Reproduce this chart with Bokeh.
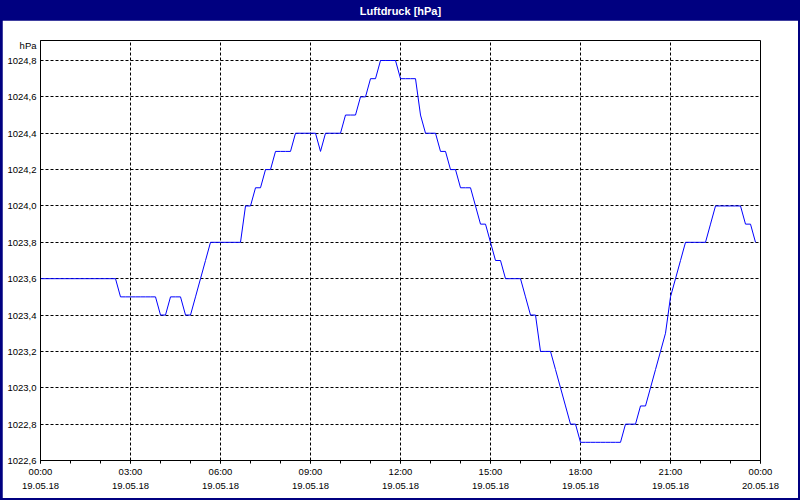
from bokeh.plotting import figure
from bokeh.models import FixedTicker, ColumnDataSource
from bokeh.layouts import column
from bokeh.embed import file_html
from bokeh.resources import INLINE
from bokeh.core.properties import value

# ---------------- data ----------------
title_text = "Luftdruck [hPa]"
unit_label = "hPa"

x_ticks = [0, 3, 6, 9, 12, 15, 18, 21, 24]
x_minor_ticks = list(range(0, 25))
x_tick_labels = ["00:00\n19.05.18", "03:00\n19.05.18", "06:00\n19.05.18",
                 "09:00\n19.05.18", "12:00\n19.05.18", "15:00\n19.05.18",
                 "18:00\n19.05.18", "21:00\n19.05.18", "00:00\n20.05.18"]

y_ticks = [1022.6, 1022.8, 1023.0, 1023.2, 1023.4, 1023.6,
           1023.8, 1024.0, 1024.2, 1024.4, 1024.6, 1024.8]
y_tick_labels = ["1022,6", "1022,8", "1023,0", "1023,2", "1023,4", "1023,6",
                 "1023,8", "1024,0", "1024,2", "1024,4", "1024,6", "1024,8"]
unit_label_pos = 1024.88   # where the unit caption sits on the value axis

sample_minutes = 10  # one reading every 10 minutes, starting 00:00

pressure = [
    # 00:00 - 02:30
    1023.6, 1023.6, 1023.6, 1023.6, 1023.6, 1023.6, 1023.6, 1023.6,
    1023.6, 1023.6, 1023.6, 1023.6, 1023.6, 1023.6, 1023.6, 1023.6,
    # 02:40 - 03:50
    1023.5, 1023.5, 1023.5, 1023.5, 1023.5, 1023.5, 1023.5, 1023.5,
    # 04:00 - 05:00
    1023.4, 1023.4, 1023.5, 1023.5, 1023.5, 1023.4, 1023.4,
    # 05:10 - 06:40
    1023.5, 1023.6, 1023.7, 1023.8, 1023.8, 1023.8, 1023.8, 1023.8, 1023.8, 1023.8,
    # 06:50 - 09:10
    1024.0, 1024.0, 1024.1, 1024.1, 1024.2, 1024.2, 1024.3, 1024.3, 1024.3, 1024.3,
    1024.4, 1024.4, 1024.4, 1024.4, 1024.4,
    # 09:20 - 10:00
    1024.3, 1024.4, 1024.4, 1024.4, 1024.4,
    # 10:10 - 11:50
    1024.5, 1024.5, 1024.5, 1024.6, 1024.6, 1024.7, 1024.7,
    1024.8, 1024.8, 1024.8, 1024.8,
    # 12:00 - 12:30
    1024.7, 1024.7, 1024.7, 1024.7,
    # 12:40 - 14:20
    1024.5, 1024.4, 1024.4, 1024.4, 1024.3, 1024.3, 1024.2, 1024.2,
    1024.1, 1024.1, 1024.1,
    # 14:30 - 16:00
    1024.0, 1023.9, 1023.9, 1023.8, 1023.7, 1023.7,
    1023.6, 1023.6, 1023.6, 1023.6,
    # 16:10 - 17:50
    1023.5, 1023.4, 1023.4, 1023.2, 1023.2, 1023.2,
    1023.1, 1023.0, 1022.9, 1022.8, 1022.8,
    # 18:00 - 19:20
    1022.7, 1022.7, 1022.7, 1022.7, 1022.7, 1022.7, 1022.7, 1022.7, 1022.7,
    # 19:30 - 20:10
    1022.8, 1022.8, 1022.8, 1022.9, 1022.9,
    # 20:20 - 21:20
    1023.0, 1023.1, 1023.2, 1023.3, 1023.5, 1023.6, 1023.7,
    # 21:30 - 22:10
    1023.8, 1023.8, 1023.8, 1023.8, 1023.8,
    # 22:20 - 23:20
    1023.9, 1024.0, 1024.0, 1024.0, 1024.0, 1024.0, 1024.0,
    # 23:30 - 23:50
    1023.9, 1023.9, 1023.8,
]

hours = [i * sample_minutes / 60.0 for i in range(len(pressure))]

FONT = "Liberation Sans"
NAVY = "#000080"

# ---------------- title bar ----------------
t = figure(width=800, height=20, toolbar_location=None, output_backend="svg",
           x_range=(0, 1), y_range=(0, 1), min_border=0,
           x_axis_location=None, y_axis_location=None)
t.background_fill_color = NAVY
t.border_fill_color = NAVY
t.outline_line_color = None
t.grid.visible = False
t.text(x=[0.5], y=[0.5], text=[title_text], text_align="center",
       text_baseline="middle", text_color="white",
       text_font=value(FONT), text_font_style="bold", text_font_size="11px")

# ---------------- main chart ----------------
src = ColumnDataSource(data=dict(x=hours, y=pressure))

p = figure(width=796, height=478, toolbar_location=None, output_backend="svg",
           x_range=(0, 24), y_range=(1022.6, 1024.91),
           min_border_left=38, min_border_right=38,
           min_border_top=20, min_border_bottom=38,
           margin=(0, 2, 2, 2))
p.background_fill_color = "white"
p.border_fill_color = "white"
p.outline_line_color = "black"
p.outline_line_width = 1
p.outline_line_alpha = 1

p.line("x", "y", source=src, line_color="#0000FF", line_width=1)

# x axis
p.xaxis.ticker = FixedTicker(ticks=x_ticks, minor_ticks=x_minor_ticks)
p.xaxis.major_label_overrides = {k: v for k, v in zip(x_ticks, x_tick_labels)}
p.xaxis.major_tick_out = 3
p.xaxis.major_tick_in = 0
p.xaxis.minor_tick_out = 3
p.xaxis.minor_tick_in = 0
p.xaxis.major_label_standoff = 2
p.xaxis.major_label_text_line_height = 1.35

# y axis (unit caption placed as an extra labelled position at the top)
y_labels = {k: v for k, v in zip(y_ticks, y_tick_labels)}
y_labels[unit_label_pos] = unit_label
p.yaxis.ticker = FixedTicker(ticks=y_ticks + [unit_label_pos], minor_ticks=[])
p.yaxis.major_label_overrides = y_labels
p.yaxis.major_tick_out = 0
p.yaxis.major_tick_in = 0
p.yaxis.minor_tick_out = 0
p.yaxis.minor_tick_in = 0
p.yaxis.major_label_standoff = 4

for ax in (p.xaxis, p.yaxis):
    ax.axis_line_color = "black"
    ax.major_tick_line_color = "black"
    ax.minor_tick_line_color = "black"
    ax.major_label_text_font = FONT
    ax.major_label_text_font_size = "9.5px"
    ax.major_label_text_color = "black"

p.xgrid.ticker = FixedTicker(ticks=x_ticks)
p.ygrid.ticker = FixedTicker(ticks=y_ticks)
p.grid.grid_line_color = "black"
p.grid.grid_line_dash = "3 2"
p.grid.grid_line_width = 1
p.grid.grid_line_alpha = 1

layout = column(t, p, spacing=0, styles={"background-color": NAVY})
open("out.html", "w").write(file_html(layout, INLINE))
